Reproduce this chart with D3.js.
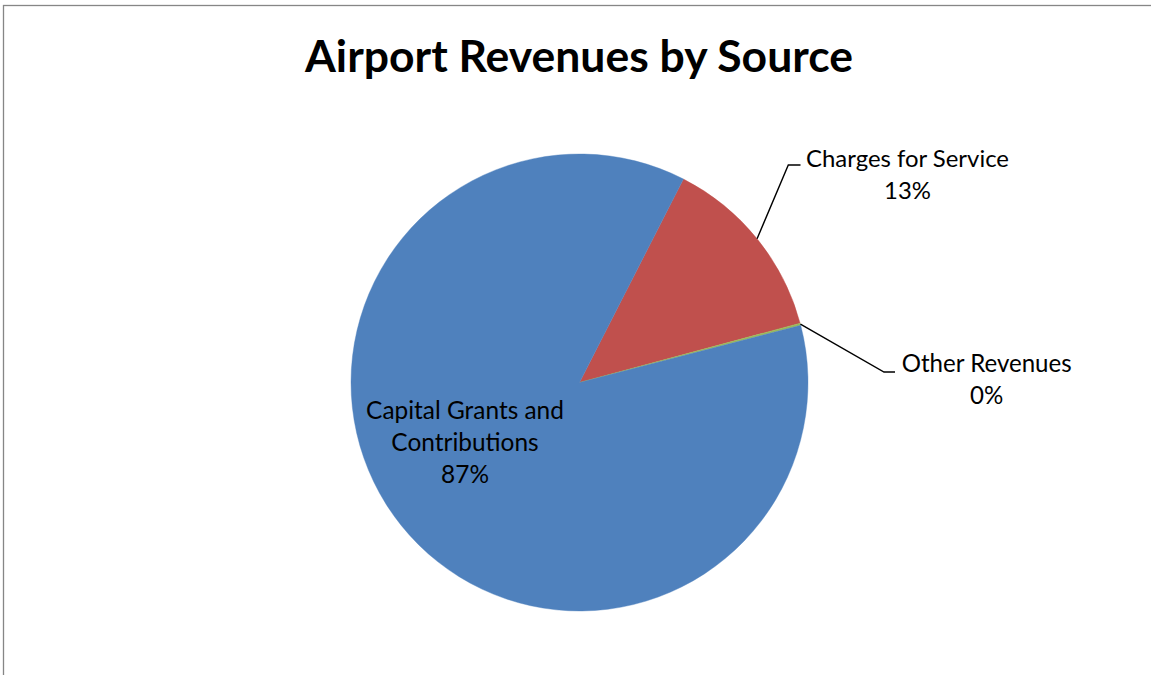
<!DOCTYPE html>
<html><head><meta charset="utf-8">
<script src="https://cdn.jsdelivr.net/npm/d3@7"></script>
<style>html,body{margin:0;padding:0;background:#fff;overflow:hidden}</style>
</head><body>
<svg id="c" width="1151" height="675"></svg>
<script>
const categories = ["Charges for Service", "Other Revenues", "Capital Grants and Contributions"];
const values = [13.3, 0.15, 86.55];
const colors = ["#C0504D", "#9BBB59", "#4F81BD"];
const title = "Airport Revenues by Source";

const svg = d3.select("#c");
const W = 1151, H = 675;
const font = "Lato, 'Open Sans', sans-serif";

svg.append("rect").attr("x", 3.5).attr("y", 5.5).attr("width", W + 10).attr("height", H + 10)
  .attr("fill", "#fff").attr("stroke", "#868686").attr("stroke-width", 1.3);

function fitText(sel, targetW) {
  const w = sel.node().getComputedTextLength();
  const fs = parseFloat(sel.attr("font-size"));
  sel.attr("font-size", fs * targetW / w);
}
const t = svg.append("text").attr("x", 579).attr("y", 72).attr("text-anchor", "middle")
  .attr("font-family", font).attr("font-weight", "bold").attr("font-size", 40)
  .attr("fill", "#000").text(title);
fitText(t, 548);

const cx = 579.5, cy = 382.5, R = 228.5;
const toRad = d => d * Math.PI / 180;
const pie = d3.pie().sort(null).value(d => d).startAngle(toRad(27.06)).endAngle(toRad(27.06 + 360));
const arcs = pie(values);
const arc = d3.arc().innerRadius(0).outerRadius(R);
const g = svg.append("g").attr("transform", `translate(${cx},${cy})`);
g.selectAll("path").data(arcs).join("path")
  .attr("d", arc).attr("fill", (d, i) => colors[i])
  .attr("stroke", (d, i) => colors[i]).attr("stroke-width", 0.4);

const total = d3.sum(values);
const pct = v => Math.round(v / total * 100) + "%";

const labelPos = [
  {lines: ["Charges for Service"], x: 907.5, y: 166.7, elbow: [788.3, 165], end: [800.5, 165]},
  {lines: ["Other Revenues"], x: 986.7, y: 371.7, elbow: [884, 372], end: [895, 372]},
  {lines: ["Capital Grants and", "Contributions"], x: 465, y: 419.3, inside: true}
];
const widths = [203, 170, 198];
const fs0 = 22;
arcs.forEach((a, i) => {
  const L = labelPos[i];
  const allLines = L.lines.concat([pct(a.value)]);
  const txt = svg.append("text").attr("text-anchor", "middle")
    .attr("font-family", font).attr("font-size", fs0).attr("fill", "#000");
  allLines.forEach((s, k) => {
    txt.append("tspan").attr("x", L.x).attr("y", L.y + k * 32).text(s);
  });
  const w = txt.select("tspan").node().getComputedTextLength();
  txt.attr("font-size", fs0 * widths[i] / w);
  if (!L.inside) {
    const mid = (a.startAngle + a.endAngle) / 2;
    const p0 = [cx + R * Math.sin(mid), cy - R * Math.cos(mid)];
    svg.append("polyline")
      .attr("points", [p0, L.elbow, L.end].map(p => p.join(",")).join(" "))
      .attr("fill", "none").attr("stroke", "#000").attr("stroke-width", 1.4);
  }
});
</script>
</body></html>
